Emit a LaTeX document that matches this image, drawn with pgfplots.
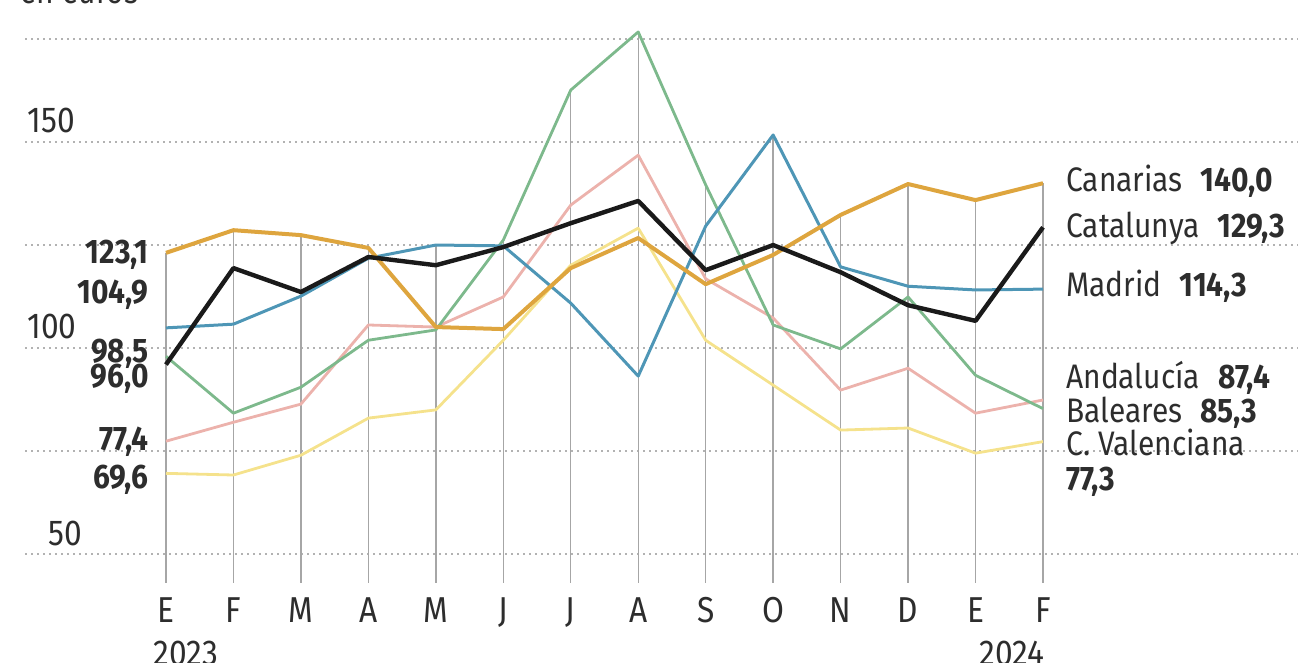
\documentclass[border=0pt]{standalone}
\usepackage{fontspec}
\setmainfont{Fira Sans}[FakeStretch=0.88]
\usepackage{pgfplots}
\pgfplotsset{compat=1.18}

\definecolor{canarias}{RGB}{222,165,62}
\definecolor{catalunya}{RGB}{26,26,26}
\definecolor{madrid}{RGB}{78,150,182}
\definecolor{baleares}{RGB}{125,185,140}
\definecolor{andalucia}{RGB}{236,178,172}
\definecolor{valenciana}{RGB}{245,226,140}
\definecolor{txt}{RGB}{45,45,45}

\newcommand\bigf{\fontsize{18}{18}\selectfont}
\newcommand\lbl{\fontsize{17}{17}\selectfont}

\begin{document}
\begin{tikzpicture}
\useasboundingbox (-12.5pt,-40pt) rectangle (636.5pt,291.5pt);
\begin{axis}[
  at={(0,0)}, anchor=south west,
  width=636.5pt, height=281.5pt, scale only axis,
  xmin=-2.09, xmax=16.78,
  ymin=43, ymax=179.6,
  axis line style={draw=none},
  major tick length=0pt,
  ytick={50,75,...,175}, yticklabels={},
  ymajorgrids,
  grid style={black!30, line width=1pt, dash pattern=on 1pt off 2pt},
  xtick={0,...,13},
  xticklabels={E,F,M,A,M,J,J,A,S,O,N,D,E,F},
  xticklabel style={anchor=base, yshift=-20pt, font=\bigf, text=txt},
  clip mode=individual,
]

% vertical month lines (up to the highest value of each month)
\addplot[ycomb, black!35, line width=0.7pt, mark=none] coordinates {
(0,123.1) (1,128.6) (2,127.4) (3,124.3) (4,125.0) (5,126.2) (6,162.6)
(7,176.7) (8,139.6) (9,151.7) (10,132.3) (11,139.8) (12,135.9) (13,140.0)
};

% C. Valenciana
\addplot[valenciana, line width=1.4pt, line join=round, mark=none] coordinates {
(0,69.6) (1,69.2) (2,74.0) (3,83.0) (4,85.0) (5,101.9) (6,120.1)
(7,129.1) (8,101.9) (9,91.0) (10,80.1) (11,80.6) (12,74.5) (13,77.3)
};

% Andalucia
\addplot[andalucia, line width=1.4pt, line join=round, mark=none] coordinates {
(0,77.4) (1,82.0) (2,86.4) (3,105.6) (4,105.1) (5,112.4) (6,134.7)
(7,146.8) (8,116.8) (9,107.3) (10,89.8) (11,95.1) (12,84.2) (13,87.4)
};

% Baleares
\addplot[baleares, line width=1.4pt, line join=round, mark=none] coordinates {
(0,98.0) (1,84.2) (2,90.5) (3,101.9) (4,104.4) (5,126.2) (6,162.6)
(7,176.7) (8,139.6) (9,105.6) (10,99.8) (11,112.4) (12,93.4) (13,85.3)
};

% Madrid
\addplot[madrid, line width=1.5pt, line join=round, mark=none] coordinates {
(0,104.9) (1,105.8) (2,112.6) (3,121.8) (4,125.0) (5,124.8) (6,110.9)
(7,93.2) (8,129.6) (9,151.7) (10,119.7) (11,115.0) (12,114.1) (13,114.3)
};

% Canarias
\addplot[canarias, line width=2pt, line join=round, mark=none] coordinates {
(0,123.1) (1,128.6) (2,127.4) (3,124.3) (4,105.1) (5,104.6) (6,119.4)
(7,126.7) (8,115.5) (9,122.6) (10,132.3) (11,139.8) (12,135.9) (13,140.0)
};

% Catalunya
\addplot[catalunya, line width=2.2pt, line join=round, mark=none] coordinates {
(0,96.0) (1,119.4) (2,113.6) (3,122.1) (4,120.1) (5,124.5) (6,130.3)
(7,135.7) (8,118.9) (9,125.0) (10,118.4) (11,110.4) (12,106.6) (13,129.3)
};

% y axis labels
\node[anchor=base west, font=\bigf, text=txt, inner sep=0pt] at (axis cs:-2.06,152.2) {150};
\node[anchor=base west, font=\bigf, text=txt, inner sep=0pt] at (axis cs:-2.06,102.4) {100};
\node[anchor=base west, font=\bigf, text=txt, inner sep=0pt] at (axis cs:-1.75,52.2) {50};

% start values
\node[anchor=base east, font=\lbl\bfseries, text=txt, inner sep=0pt] at (axis cs:-0.25,120.6) {123,1};
\node[anchor=base east, font=\lbl\bfseries, text=txt, inner sep=0pt] at (axis cs:-0.25,110.9) {104,9};
\node[anchor=base east, font=\lbl\bfseries, text=txt, inner sep=0pt] at (axis cs:-0.25,96.6) {98,5};
\node[anchor=base east, font=\lbl\bfseries, text=txt, inner sep=0pt] at (axis cs:-0.25,90.5) {96,0};
\node[anchor=base east, font=\lbl\bfseries, text=txt, inner sep=0pt] at (axis cs:-0.25,75.2) {77,4};
\node[anchor=base east, font=\lbl\bfseries, text=txt, inner sep=0pt] at (axis cs:-0.25,66.0) {69,6};

% end values
\node[anchor=base west, font=\lbl, text=txt, inner sep=0pt] at (axis cs:13.34,137.9) {Canarias\hspace{9pt}\textbf{140,0}};
\node[anchor=base west, font=\lbl, text=txt, inner sep=0pt] at (axis cs:13.34,126.9) {Catalunya\hspace{9pt}\textbf{129,3}};
\node[anchor=base west, font=\lbl, text=txt, inner sep=0pt] at (axis cs:13.34,112.4) {Madrid\hspace{9pt}\textbf{114,3}};
\node[anchor=base west, font=\lbl, text=txt, inner sep=0pt] at (axis cs:13.34,90.3) {Andalucía\hspace{9pt}\textbf{87,4}};
\node[anchor=base west, font=\lbl, text=txt, inner sep=0pt] at (axis cs:13.34,82.0) {Baleares\hspace{9pt}\textbf{85,3}};
\node[anchor=base west, font=\lbl, text=txt, inner sep=0pt] at (axis cs:13.34,74.0) {C. Valenciana};
\node[anchor=base west, font=\lbl\bfseries, text=txt, inner sep=0pt] at (axis cs:13.34,65.5) {77,3};

% years and unit
\node[anchor=base west, font=\bigf, text=txt, inner sep=0pt] at (axis cs:-0.19,23.1) {2023};
\node[anchor=base east, font=\bigf, text=txt, inner sep=0pt] at (axis cs:13.03,23.1) {2024};
\node[anchor=base west, font=\lbl, text=txt, inner sep=0pt] at (axis cs:-2.16,183.7) {en euros};

\end{axis}
\end{tikzpicture}
\end{document}
